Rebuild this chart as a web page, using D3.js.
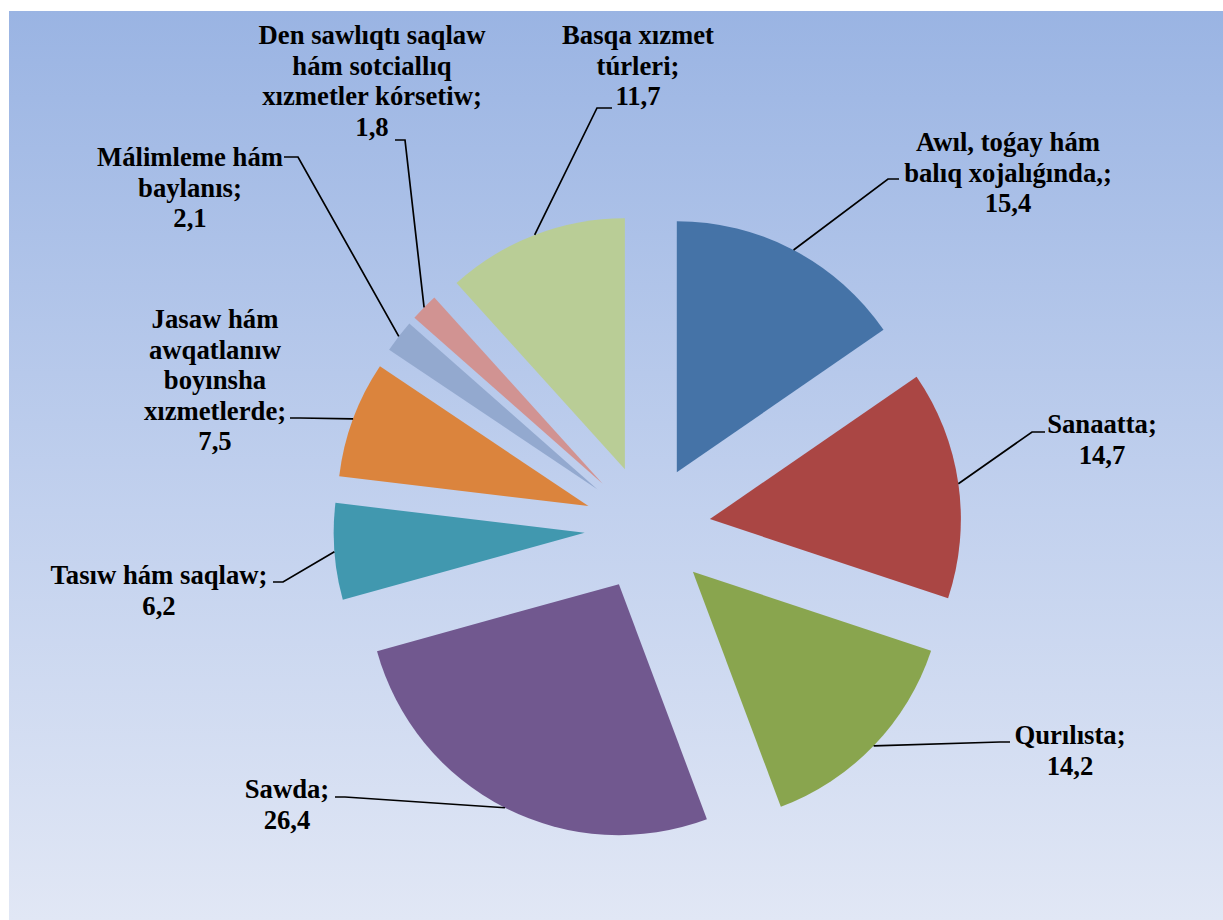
<!DOCTYPE html>
<html>
<head>
<meta charset="utf-8">
<script src="https://cdn.jsdelivr.net/npm/d3@7/dist/d3.min.js"></script>
<style>
  html, body { margin: 0; padding: 0; background: #ffffff; }
  svg { display: block; }
  text { font-family: "Liberation Serif", "Times New Roman", serif; font-weight: bold; fill: #000; }
</style>
</head>
<body>
<div id="chart"></div>
<script>
// ---- data ----
const categories = [
  ["Awıl, toǵay hám", "balıq xojalıǵında,;"],
  ["Sanaatta;"],
  ["Qurılısta;"],
  ["Sawda;"],
  ["Tasıw hám saqlaw;"],
  ["Jasaw hám", "awqatlanıw", "boyınsha", "xızmetlerde;"],
  ["Málimleme hám", "baylanıs;"],
  ["Den sawlıqtı saqlaw", "hám sotciallıq", "xızmetler kórsetiw;"],
  ["Basqa xızmet", "túrleri;"]
];
const values = [15.4, 14.7, 14.2, 26.4, 6.2, 7.5, 2.1, 1.8, 11.7];
const colors = ["#4573a7", "#aa4644", "#89a54e", "#71588f", "#4198af", "#db843d", "#93a9cf", "#d19392", "#b9cd96"];

// ---- layout (label placement: knee point, line end, label center x, first baseline) ----
const labelLayout = [
  { knee: [888, 179], end: [899, 179], cx: 1008, y0: 151 },
  { knee: [1032, 432], end: [1045, 432], cx: 1102, y0: 433 },
  { knee: [1000, 742], end: [1010, 742], cx: 1070, y0: 744 },
  { knee: [345, 797], end: [335, 797], cx: 287, y0: 798 },
  { knee: [283, 582], end: [273, 582], cx: 159, y0: 584 },
  { knee: [300, 418], end: [290, 418], cx: 215, y0: 328 },
  { knee: [298, 157], end: [284, 157], cx: 190, y0: 166 },
  { knee: [405, 140], end: [395, 140], cx: 372, y0: 44 },
  { knee: [597, 108], end: [612, 108], cx: 638, y0: 44 }
];

const W = 1223, H = 920;
const cx = 647.5, cy = 528, R = 251, explode = 63;
const lineH = 30.5;
const fontSize = 26.7;

const svg = d3.select("#chart").append("svg").attr("width", W).attr("height", H);

const defs = svg.append("defs");
const grad = defs.append("linearGradient").attr("id", "bg").attr("x1", 0).attr("y1", 0).attr("x2", 0).attr("y2", 1);
grad.append("stop").attr("offset", "0%").attr("stop-color", "#9ab4e3");
grad.append("stop").attr("offset", "55%").attr("stop-color", "#c2d1ee");
grad.append("stop").attr("offset", "100%").attr("stop-color", "#e1e7f5");

svg.append("rect").attr("x", 9).attr("y", 11).attr("width", W - 9).attr("height", H - 11).attr("fill", "url(#bg)");

const pie = d3.pie().sort(null).value(d => d)(values);
const arc = d3.arc().innerRadius(0).outerRadius(R);
const mid = d3.arc().innerRadius(R).outerRadius(R);

const g = svg.append("g").attr("transform", `translate(${cx},${cy})`);

const offsets = pie.map(p => {
  const a = (p.startAngle + p.endAngle) / 2;
  return [Math.sin(a) * explode, -Math.cos(a) * explode];
});

g.selectAll("path.slice").data(pie).join("path")
  .attr("class", "slice")
  .attr("d", arc)
  .attr("fill", (d, i) => colors[i])
  .attr("transform", (d, i) => `translate(${offsets[i][0]},${offsets[i][1]})`);

// leader lines
pie.forEach((p, i) => {
  const c = mid.centroid(p);
  const sx = cx + offsets[i][0] + c[0];
  const sy = cy + offsets[i][1] + c[1];
  const L = labelLayout[i];
  svg.append("polyline")
    .attr("points", [[sx, sy], L.knee, L.end].map(q => q.join(",")).join(" "))
    .attr("fill", "none").attr("stroke", "#000").attr("stroke-width", 1.7);
});

// labels
const fmt = v => d3.format(".1f")(v).replace(".", ",");
categories.forEach((lines, i) => {
  const L = labelLayout[i];
  const all = lines.concat([fmt(values[i])]);
  const t = svg.append("text").attr("text-anchor", "middle").attr("font-size", fontSize);
  all.forEach((s, k) => {
    t.append("tspan").attr("x", L.cx).attr("y", L.y0 + k * lineH).text(s);
  });
});
</script>
</body>
</html>
